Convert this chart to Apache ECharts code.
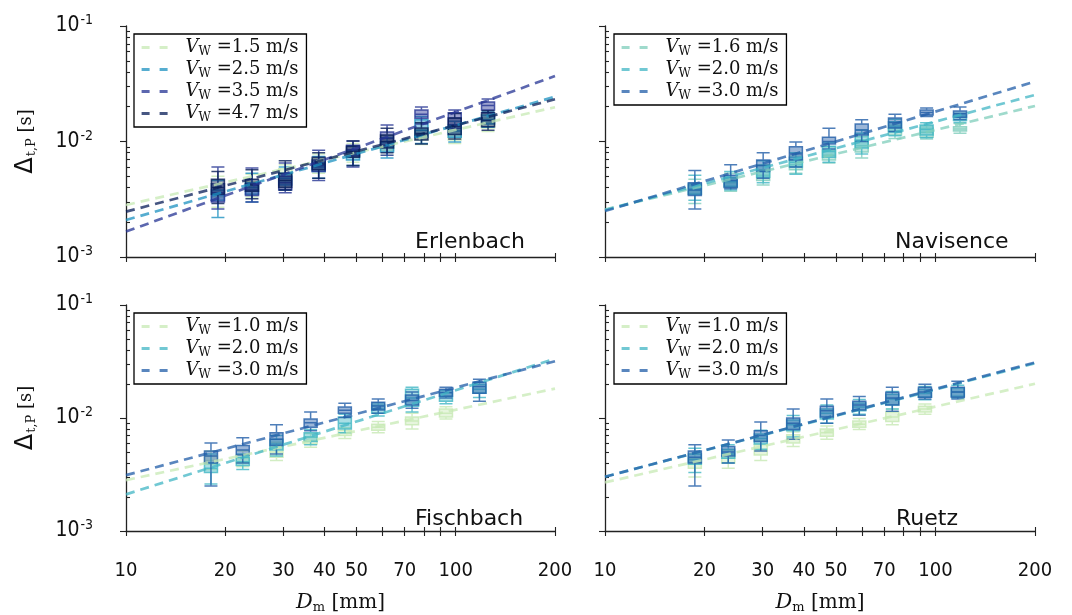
<!DOCTYPE html>
<html><head><meta charset="utf-8">
<script src="https://cdn.jsdelivr.net/npm/echarts@6/dist/echarts.min.js"></script>
<style>html,body{margin:0;padding:0;background:#fff}#c{width:1072px;height:615px}</style>
</head><body><div id="c"></div>
<script>
// ---------- data ----------
const fitX = [10, 200];
const xMajorLabels = [10, 20, 30, 40, 50, 70, 100, 200];
const xTicksOut = [10, 20, 30, 40, 50, 60, 70, 80, 90, 100, 200];
const xTicksIn = [20, 30, 40, 50, 60, 70, 80, 90, 100, 200];
const yMajor = [0.001, 0.01, 0.1];
const yMinor = [0.002,0.003,0.004,0.005,0.006,0.007,0.008,0.009,0.02,0.03,0.04,0.05,0.06,0.07,0.08,0.09];

// Erlenbach
const erlD = [19.0, 24.1, 30.4, 38.4, 48.8, 61.9, 78.7, 99.3, 125.3];
const erlVel = ['1.5', '2.5', '3.5', '4.7'];
const erl15 = [[0.0027,0.0033,0.0038,0.0043,0.0050],[0.0033,0.0037,0.0041,0.0045,0.0052],[0.0041,0.0046,0.0052,0.0058,0.0063],[0.0053,0.0059,0.0064,0.0071,0.0078],[0.0066,0.0073,0.0080,0.0089,0.0096],[0.0076,0.0084,0.0092,0.0103,0.0112],[0.0094,0.0103,0.0114,0.0126,0.0146],[0.0096,0.0103,0.0114,0.0126,0.0138],[0.0122,0.0131,0.0145,0.0160,0.0170]];
const erl25 = [[0.0022,0.0031,0.0034,0.0038,0.0046],[0.0030,0.0035,0.0040,0.0044,0.0053],[0.0038,0.0042,0.0048,0.0053,0.0060],[0.0048,0.0055,0.0060,0.0066,0.0074],[0.0062,0.0069,0.0077,0.0084,0.0092],[0.0072,0.0081,0.0090,0.0099,0.0108],[0.0096,0.0109,0.0125,0.0154,0.0165],[0.0099,0.0109,0.0123,0.0139,0.0150],[0.0133,0.0142,0.0154,0.0170,0.0180]];
const erl35 = [[0.0026,0.0030,0.0036,0.0043,0.0060],[0.0030,0.0034,0.0038,0.0043,0.0059],[0.0036,0.0038,0.0044,0.0050,0.0065],[0.0046,0.0055,0.0062,0.0069,0.0084],[0.0060,0.0075,0.0085,0.0093,0.0101],[0.0076,0.0093,0.0106,0.0121,0.0139],[0.0142,0.0159,0.0172,0.0187,0.0199],[0.0130,0.0139,0.0160,0.0177,0.0187],[0.0177,0.0187,0.0205,0.0220,0.0233]];
const erl47 = [[0.0029,0.0035,0.0040,0.0047,0.0055],[0.0032,0.0037,0.0042,0.0047,0.0057],[0.0038,0.0040,0.0046,0.0053,0.0068],[0.0048,0.0057,0.0064,0.0073,0.0080],[0.0062,0.0073,0.0082,0.0091,0.0101],[0.0080,0.0088,0.0100,0.0114,0.0130],[0.0095,0.0103,0.0117,0.0131,0.0145],[0.0105,0.0115,0.0135,0.0160,0.0175],[0.0125,0.0134,0.0152,0.0177,0.0185]];
const erlFit = [[0.00282, 0.0198], [0.00209, 0.0244], [0.00166, 0.0369], [0.00247, 0.0232]];

// Navisence
const navD = [18.7, 24.0, 30.1, 37.8, 47.6, 59.8, 75.4, 94.0, 118.6];
const navVel = ['1.6', '2.0', '3.0'];
const nav16 = [[0.0029,0.0035,0.0038,0.0042,0.0047],[0.0037,0.0040,0.0044,0.0048,0.0053],[0.0042,0.0046,0.0051,0.0057,0.0063],[0.0053,0.0057,0.0063,0.0069,0.0075],[0.0065,0.0069,0.0076,0.0084,0.0090],[0.0072,0.0081,0.0092,0.0103,0.0110],[0.0106,0.0114,0.0122,0.0131,0.0138],[0.0105,0.0109,0.0120,0.0131,0.0136],[0.0118,0.0123,0.0128,0.0134,0.0143]];
const nav20 = [[0.0031,0.0035,0.0039,0.0043,0.0051],[0.0038,0.0041,0.0045,0.0049,0.0055],[0.0044,0.0049,0.0055,0.0062,0.0068],[0.0052,0.0060,0.0066,0.0073,0.0080],[0.0066,0.0073,0.0082,0.0091,0.0098],[0.0078,0.0088,0.0102,0.0118,0.0126],[0.0112,0.0121,0.0134,0.0148,0.0156],[0.0108,0.0114,0.0127,0.0139,0.0145],[0.0146,0.0152,0.0162,0.0170,0.0176]];
const nav30 = [[0.0026,0.0034,0.0038,0.0044,0.0056],[0.0039,0.0040,0.0046,0.0051,0.0063],[0.0048,0.0055,0.0062,0.0069,0.0080],[0.0060,0.0069,0.0078,0.0090,0.0099],[0.0086,0.0095,0.0100,0.0109,0.0130],[0.0100,0.0114,0.0126,0.0142,0.0154],[0.0122,0.0131,0.0146,0.0160,0.0172],[0.0165,0.0170,0.0178,0.0187,0.0195],[0.0155,0.0162,0.0174,0.0184,0.0199]];
const navFit = [[0.00258, 0.0203], [0.00255, 0.0253], [0.00250, 0.0330]];

// Fischbach
const fisD = [18.1, 22.6, 28.6, 36.3, 46.1, 58.2, 73.7, 93.4, 118.0];
const fisVel = ['1.0', '2.0', '3.0'];
const fis10 = [[0.0035,0.0039,0.0042,0.0046,0.0051],[0.0037,0.0040,0.0044,0.0047,0.0051],[0.0042,0.0045,0.0050,0.0056,0.0061],[0.0055,0.0059,0.0063,0.0068,0.0073],[0.0066,0.0070,0.0074,0.0078,0.0082],[0.0074,0.0078,0.0083,0.0088,0.0093],[0.0080,0.0087,0.0094,0.0102,0.0110],[0.0098,0.0102,0.0110,0.0120,0.0126]];
const fis20 = [[0.0026,0.0033,0.0036,0.0040,0.0048],[0.0035,0.0038,0.0041,0.0045,0.0048],[0.0046,0.0052,0.0059,0.0065,0.0070],[0.0058,0.0062,0.0068,0.0074,0.0079],[0.0074,0.0080,0.0090,0.0102,0.0108],[0.0104,0.0110,0.0120,0.0130,0.0136],[0.0113,0.0127,0.0150,0.0180,0.0187],[0.0134,0.0141,0.0155,0.0170,0.0176],[0.0152,0.0166,0.0180,0.0199,0.0207]];
const fis30 = [[0.0025,0.0040,0.0046,0.0051,0.0060],[0.0040,0.0047,0.0052,0.0057,0.0067],[0.0048,0.0057,0.0065,0.0074,0.0087],[0.0077,0.0083,0.0091,0.0098,0.0113],[0.0101,0.0110,0.0117,0.0125,0.0135],[0.0110,0.0118,0.0128,0.0138,0.0147],[0.0122,0.0130,0.0143,0.0160,0.0170],[0.0150,0.0156,0.0167,0.0180,0.0187],[0.0141,0.0166,0.0190,0.0207,0.0220]];
const fisFit = [[0.00282, 0.0182], [0.00211, 0.0334], [0.00312, 0.0318]];

// Ruetz
const rueD = [18.7, 23.6, 29.6, 37.1, 46.9, 58.8, 74.0, 92.9, 116.8];
const rueVel = ['1.0', '2.0', '3.0'];
const rue10 = [[0.0030,0.0036,0.0040,0.0044,0.0048],[0.0036,0.0040,0.0044,0.0048,0.0052],[0.0042,0.0047,0.0052,0.0058,0.0063],[0.0056,0.0060,0.0065,0.0071,0.0075],[0.0065,0.0069,0.0074,0.0080,0.0085],[0.0079,0.0083,0.0088,0.0094,0.0099],[0.0087,0.0093,0.0102,0.0113,0.0120],[0.0108,0.0113,0.0120,0.0127,0.0133]];
const rue20 = [[0.0033,0.0039,0.0043,0.0048,0.0054],[0.0040,0.0044,0.0048,0.0053,0.0058],[0.0053,0.0059,0.0066,0.0072,0.0078],[0.0068,0.0077,0.0087,0.0096,0.0105],[0.0090,0.0098,0.0110,0.0120,0.0130],[0.0108,0.0116,0.0125,0.0136,0.0146],[0.0120,0.0130,0.0147,0.0162,0.0172],[0.0145,0.0153,0.0165,0.0180,0.0190],[0.0150,0.0156,0.0170,0.0184,0.0195]];
const rue30 = [[0.0025,0.0040,0.0045,0.0051,0.0058],[0.0040,0.0046,0.0050,0.0056,0.0064],[0.0051,0.0062,0.0070,0.0077,0.0092],[0.0065,0.0079,0.0090,0.0100,0.0120],[0.0090,0.0102,0.0116,0.0127,0.0147],[0.0106,0.0118,0.0130,0.0141,0.0155],[0.0115,0.0130,0.0150,0.0169,0.0187],[0.0147,0.0153,0.0170,0.0187,0.0199],[0.0147,0.0153,0.0170,0.0187,0.0211]];
const rueFit = [[0.00269, 0.0201], [0.00302, 0.0305], [0.00302, 0.0310]];

// ---------- styling / layout ----------
const panels = [
  {key:'E', title:'Erlenbach', D:erlD, vel:erlVel, boxes:[erl15,erl25,erl35,erl47], fits:erlFit,
   colors:['#c7e9b4','#1d91c0','#253494','#081d58'],
   grid:{left:126, top:26, width:429, height:231}, legend:[134,34], titlePos:[415,231], bottom:false, leftCol:true},
  {key:'N', title:'Navisence', D:navD, vel:navVel, boxes:[nav16,nav20,nav30], fits:navFit,
   colors:['#7fcdbb','#41b6c4','#225ea8'],
   grid:{left:605, top:26, width:430, height:231}, legend:[614,34], titlePos:[895,231], bottom:false, leftCol:false},
  {key:'F', title:'Fischbach', D:fisD, vel:fisVel, boxes:[fis10,fis20,fis30], fits:fisFit,
   colors:['#c7e9b4','#41b6c4','#225ea8'],
   grid:{left:126, top:305, width:429, height:230}, legend:[134,313], titlePos:[415,508], bottom:true, leftCol:true},
  {key:'R', title:'Ruetz', D:rueD, vel:rueVel, boxes:[rue10,rue20,rue30], fits:rueFit,
   colors:['#c7e9b4','#41b6c4','#225ea8'],
   grid:{left:605, top:305, width:430, height:230}, legend:[614,313], titlePos:[896,508], bottom:true, leftCol:false}
];

function rgba(hex, a) {
  const n = parseInt(hex.slice(1), 16);
  return 'rgba(' + ((n >> 16) & 255) + ',' + ((n >> 8) & 255) + ',' + (n & 255) + ',' + a + ')';
}

const axisCol = '#222';
const serif = "'DejaVu Serif', serif";
const sans = "'DejaVu Sans', sans-serif";
const cond = "'DejaVu Sans Condensed', 'Liberation Sans Narrow', 'DejaVu Sans', sans-serif";

const grids = [], xAxes = [], yAxes = [], series = [], legends = [], titles = [];

panels.forEach((p, i) => {
  grids.push(Object.assign({containLabel:false}, p.grid));
  // main x axis: line, outward ticks, labels
  xAxes.push({
    type:'log', logBase:10, gridIndex:i, min:10, max:200, position:'bottom',
    axisLine:{show:true, lineStyle:{color:axisCol, width:1.3}},
    axisTick:{show:true, inside:false, length:5, customValues:xTicksOut, lineStyle:{color:axisCol, width:1.1}},
    axisLabel:{show:p.bottom, customValues:xMajorLabels, margin:30, color:'#111', fontSize:20, fontFamily:cond},
    splitLine:{show:false}, minorTick:{show:false},
    name: p.bottom ? '{d|D}{s|m}{u| [mm]}' : '', nameLocation:'middle', nameGap:60,
    nameTextStyle:{rich:{
      d:{fontFamily:serif, fontStyle:'italic', fontSize:21, color:'#111'},
      s:{fontFamily:serif, fontSize:13, color:'#111', padding:[10,0,0,0]},
      u:{fontFamily:serif, fontSize:20, color:'#111'}
    }}
  });
  // inward x ticks
  xAxes.push({
    type:'log', logBase:10, gridIndex:i, min:10, max:200, position:'bottom',
    axisLine:{show:false},
    axisTick:{show:true, inside:true, length:4, customValues:xTicksIn, lineStyle:{color:axisCol, width:1.1}},
    axisLabel:{show:false}, splitLine:{show:false}, minorTick:{show:false}
  });
  // major y axis (outward ticks, labels)
  yAxes.push({
    type:'log', logBase:10, gridIndex:i, min:0.001, max:0.1, position:'left',
    axisLine:{show:true, lineStyle:{color:axisCol, width:1.3}},
    axisTick:{show:true, inside:false, length:6, customValues:yMajor, lineStyle:{color:axisCol, width:1.1}},
    axisLabel:{show:p.leftCol, customValues:yMajor, margin:33,
      formatter: v => '{b|10}{s|' + Math.round(Math.log10(v)) + '}',
      rich:{ b:{fontFamily:cond, fontSize:21, color:'#111'}, s:{fontFamily:cond, fontSize:14, color:'#111', padding:[0,0,11,1]} }},
    splitLine:{show:false}, minorTick:{show:false},
    name: p.leftCol ? '{d|Δ}{s|t,P}{u| [s]}' : '', nameLocation:'middle', nameRotate:90, nameGap:88,
    nameTextStyle:{rich:{
      d:{fontFamily:sans, fontSize:24, color:'#111'},
      s:{fontFamily:serif, fontSize:13, color:'#111', padding:[11,0,0,1]},
      u:{fontFamily:serif, fontSize:18, color:'#111'}
    }}
  });
  // minor y axis (inward ticks only)
  yAxes.push({
    type:'log', logBase:10, gridIndex:i, min:0.001, max:0.1, position:'left',
    axisLine:{show:false},
    axisTick:{show:true, inside:true, length:4, customValues:yMinor, lineStyle:{color:axisCol, width:1.1}},
    axisLabel:{show:false}, splitLine:{show:false}, minorTick:{show:false}
  });

  const items = [];
  p.boxes.forEach((arr, k) => {
    arr.forEach((b, j) => {
      items.push({
        value:[p.D[j], b[0], b[1], b[2], b[3], b[4]],
        itemStyle:{color:rgba(p.colors[k], 0.45), borderColor:rgba(p.colors[k], 0.8), borderWidth:1.5}
      });
    });
  });
  series.push({type:'boxplot', xAxisIndex:2*i, yAxisIndex:2*i, boxWidth:[13,13], data:items, z:2, silent:true});

  p.fits.forEach((f, k) => {
    series.push({
      type:'line', name:p.key + '|' + p.vel[k], xAxisIndex:2*i, yAxisIndex:2*i,
      data:[[fitX[0], f[0]], [fitX[1], f[1]]],
      symbol:'none', showSymbol:false, color:rgba(p.colors[k], 0.75),
      lineStyle:{width:2.7, type:[9,6], color:rgba(p.colors[k], 0.75)}, z:3, silent:true
    });
  });

  legends.push({
    data:p.vel.map(v => p.key + '|' + v), orient:'vertical',
    left:p.legend[0], top:p.legend[1],
    itemWidth:28, itemHeight:14, itemGap:1,
    itemStyle:{opacity:0},
    lineStyle:{width:3.2, type:[8,10]},
    backgroundColor:'#fff', borderColor:'#000', borderWidth:1.3, borderRadius:0,
    padding:[3,8,3,6], selectedMode:false,
    formatter: name => '{v|V}{w|W}{t| =' + name.split('|')[1] + ' m/s}',
    textStyle:{ rich:{
      v:{fontFamily:serif, fontStyle:'italic', fontSize:18, color:'#111', padding:[0,0,0,11], lineHeight:22},
      w:{fontFamily:serif, fontSize:12, color:'#111', padding:[9,0,0,0], lineHeight:22},
      t:{fontFamily:serif, fontSize:18, color:'#111', lineHeight:22}
    }}
  });

  titles.push({text:p.title, left:p.titlePos[0], top:p.titlePos[1], padding:0,
    textStyle:{fontFamily:sans, fontSize:22, fontWeight:'normal', color:'#111'}});
});

const chart = echarts.init(document.getElementById('c'), null, {renderer:'canvas'});
chart.setOption({
  animation:false, backgroundColor:'#fff',
  title:titles, grid:grids, xAxis:xAxes, yAxis:yAxes, legend:legends, series:series
});
</script></body></html>
